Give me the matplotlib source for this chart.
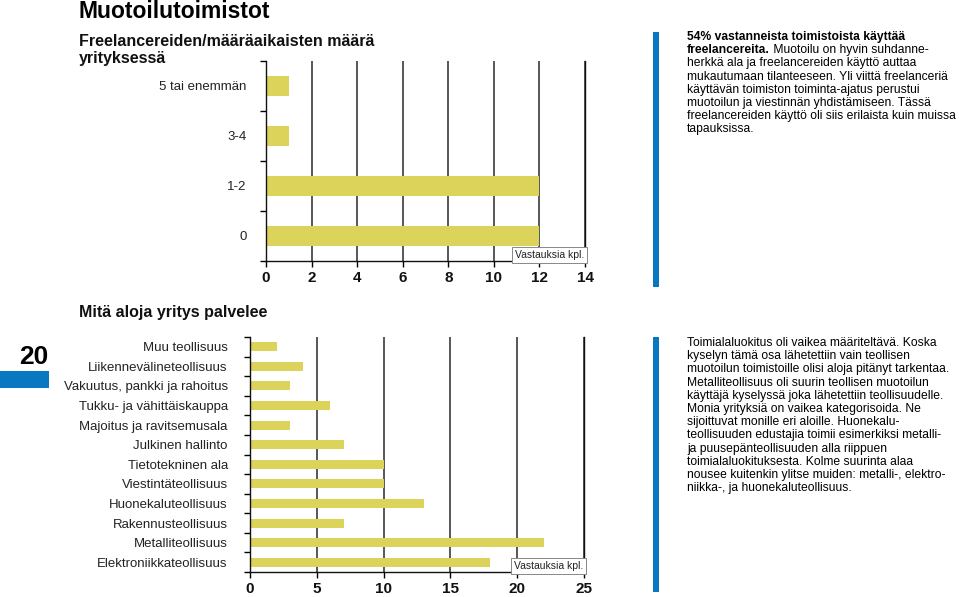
import numpy as np
import matplotlib
matplotlib.use("Agg")
import matplotlib.pyplot as plt
from matplotlib.patches import Rectangle

plt.rcParams["font.family"] = ["Liberation Sans", "DejaVu Sans"]

# top chart data
freelance_cats = ["5 tai enemmän", "3-4", "1-2", "0"]
freelance_vals = [1, 1, 12, 12]
freelance_ticks = [0, 2, 4, 6, 8, 10, 12, 14]

# bottom chart data
sector_cats = ["Muu teollisuus", "Liikennevälineteollisuus", "Vakuutus, pankki ja rahoitus",
               "Tukku- ja vähittäiskauppa", "Majoitus ja ravitsemusala", "Julkinen hallinto",
               "Tietotekninen ala", "Viestintäteollisuus", "Huonekaluteollisuus",
               "Rakennusteollisuus", "Metalliteollisuus", "Elektroniikkateollisuus"]
sector_vals = [2, 4, 3, 6, 3, 7, 10, 10, 13, 7, 22, 18]
sector_ticks = [0, 5, 10, 15, 20, 25]

para1_bold = "54% vastanneista toimistoista käyttää"
para1_lines = [
    ("freelancereita.", " Muotoilu on hyvin suhdanne-"),
    "herkkä ala ja freelancereiden käyttö auttaa",
    "mukautumaan tilanteeseen. Yli viittä freelanceriä",
    "käyttävän toimiston toiminta-ajatus perustui",
    "muotoilun ja viestinnän yhdistämiseen. Tässä",
    "freelancereiden käyttö oli siis erilaista kuin muissa",
    "tapauksissa.",
]
para2_lines = [
    "Toimialaluokitus oli vaikea määriteltävä. Koska",
    "kyselyn tämä osa lähetettiin vain teollisen",
    "muotoilun toimistoille olisi aloja pitänyt tarkentaa.",
    "Metalliteollisuus oli suurin teollisen muotoilun",
    "käyttäjä kyselyssä joka lähetettiin teollisuudelle.",
    "Monia yrityksiä on vaikea kategorisoida. Ne",
    "sijoittuvat monille eri aloille. Huonekalu-",
    "teollisuuden edustajia toimii esimerkiksi metalli-",
    "ja puusepänteollisuuden alla riippuen",
    "toimialaluokituksesta. Kolme suurinta alaa",
    "nousee kuitenkin ylitse muiden: metalli-, elektro-",
    "niikka-, ja huonekaluteollisuus.",
]

YELLOW = "#dcd35b"
BLUE = "#0a78c0"
W, H = 959, 597

fig = plt.figure(figsize=(W / 100, H / 100), dpi=100)


def fx(px):
    return px / W


def fy(py):
    return 1 - py / H


def bar_panel(rect, cats, vals, ticks, pad, bh):
    ax = fig.add_axes(rect)
    y = np.arange(len(cats))
    ax.barh(y, vals, height=bh, color=YELLOW, zorder=2)
    ax.set_ylim(len(cats) - 0.5, -0.5)
    ax.set_xlim(ticks[0], ticks[-1])
    ax.set_yticks(y)
    ax.set_yticklabels(cats, fontsize=9.5, color="#222")
    ax.set_yticks(np.arange(-0.5, len(cats), 1), minor=True)
    ax.tick_params(axis="y", which="major", length=0, pad=pad)
    ax.tick_params(axis="y", which="minor", length=4, direction="out", width=1)
    ax.set_xticks(ticks)
    ax.set_xticklabels([str(t) for t in ticks], fontsize=11, fontweight="bold", color="#111")
    ax.tick_params(axis="x", length=4, width=1, direction="out", pad=3.5)
    ax.xaxis.grid(True, color="#2a2a2a", lw=1.1)
    ax.set_axisbelow(True)
    ax.spines["top"].set_visible(False)
    for s in ["left", "bottom", "right"]:
        ax.spines[s].set_color("#111")
        ax.spines[s].set_linewidth(1)
    ax.text(0.998, 0.004, "Vastauksia kpl.", transform=ax.transAxes, ha="right", va="bottom",
            fontsize=7.5, color="#222", zorder=5,
            bbox=dict(facecolor="white", edgecolor="#888", lw=0.7, boxstyle="square,pad=0.3"))
    return ax


ax1 = bar_panel([fx(266), fy(261), fx(585) - fx(266), fy(61) - fy(261)],
                freelance_cats, freelance_vals, freelance_ticks, 14, 0.4)
ax2 = bar_panel([fx(250), fy(572), fx(584) - fx(250), fy(337) - fy(572)],
                sector_cats, sector_vals, sector_ticks, 16, 0.46)

# headings
fig.text(fx(79), fy(18), "Muotoilutoimistot", fontsize=16.5, fontweight="bold", va="baseline")
fig.text(fx(79), fy(46), "Freelancereiden/määräaikaisten määrä", fontsize=11.5,
         fontweight="bold", va="baseline", color="#111")
fig.text(fx(79), fy(63), "yrityksessä", fontsize=11.5, fontweight="bold", va="baseline", color="#111")
fig.text(fx(79), fy(317), "Mitä aloja yritys palvelee", fontsize=11.5, fontweight="bold",
         va="baseline", color="#111")

# page number and blue markers
fig.text(fx(48), fy(364), "20", fontsize=19, fontweight="bold", ha="right", va="baseline")
fig.patches.append(Rectangle((0, fy(388)), fx(49), fy(371) - fy(388), transform=fig.transFigure,
                             facecolor=BLUE, edgecolor="none"))
for top, bot in [(32, 287), (337, 592)]:
    fig.patches.append(Rectangle((fx(653), fy(bot)), fx(6), fy(top) - fy(bot),
                                 transform=fig.transFigure, facecolor=BLUE, edgecolor="none"))

# side paragraphs
FS = 8.7
STEP = 13.2
x0 = fx(687)
fig.text(x0, fy(37), para1_bold, fontsize=FS, fontweight="bold", va="center")
for i, line in enumerate(para1_lines):
    yy = fy(37 + STEP * (i + 1))
    if isinstance(line, tuple):
        t = fig.text(x0, yy, line[0], fontsize=FS, fontweight="bold", va="center")
        ax1.annotate(line[1], xy=(1, 0), xycoords=t, va="bottom", ha="left",
                     fontsize=FS, annotation_clip=False)
    else:
        fig.text(x0, yy, line, fontsize=FS, va="center")

for i, line in enumerate(para2_lines):
    fig.text(x0, fy(343 + STEP * i), line, fontsize=FS, va="center")

fig.savefig("out.png", dpi=100)
